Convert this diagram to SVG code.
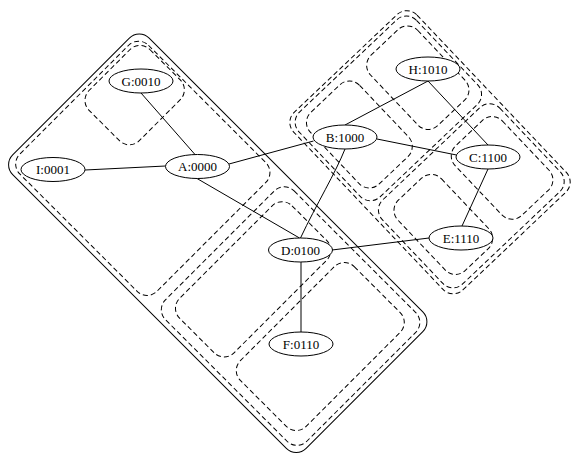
<svg xmlns="http://www.w3.org/2000/svg" width="574" height="454" viewBox="0 0 574 454">
<style>
  .solid{fill:none;stroke:#000;stroke-width:1}
  .dash{fill:none;stroke:#000;stroke-width:1;stroke-dasharray:5,3}
  .node ellipse{fill:#fff;stroke:#000;stroke-width:1}
  .node text{font-family:"Liberation Serif","Times New Roman",serif;font-size:13px;text-anchor:middle;fill:#000}
  #edges path{fill:none;stroke:#000;stroke-width:1}
</style>
<rect width="574" height="454" fill="#fff"/>

<!-- cluster 0*** : tilted 45 degrees -->
<g id="cluster_0" transform="translate(217.75,243.25) rotate(45)">
  <rect class="solid" x="-207.5" y="-96.5" width="415" height="193" rx="14"/>
  <!-- 00** -->
  <rect class="dash" x="-203" y="-91" width="194" height="182" rx="14"/>
  <!-- 001* -->
  <rect class="dash" x="-199" y="-89" width="71" height="86" rx="14"/>
  <!-- 01** -->
  <rect class="dash" x="3" y="-91" width="200" height="182" rx="14"/>
  <!-- 010* -->
  <rect class="dash" x="12" y="-79" width="77" height="159" rx="14"/>
  <!-- 011* -->
  <rect class="dash" x="99" y="-80" width="93" height="161" rx="14"/>
</g>

<!-- cluster 1*** : tilted a little past 45 degrees -->
<g id="cluster_1" transform="translate(430,152.25) rotate(46.5)">
  <rect class="dash" x="-122.5" y="-85" width="245" height="170" rx="14"/>
  <!-- 10** -->
  <rect class="dash" x="-119" y="-81" width="117" height="162" rx="14"/>
  <!-- 11** -->
  <rect class="dash" x="2" y="-81" width="116" height="162" rx="14"/>
  <!-- 101* -->
  <rect class="dash" x="-111" y="-75" width="97" height="65" rx="14"/>
  <!-- 100* -->
  <rect class="dash" x="-111" y="5" width="99" height="68" rx="14"/>
  <!-- 110* -->
  <rect class="dash" x="13" y="-74" width="96" height="65" rx="14"/>
  <!-- 111* -->
  <rect class="dash" x="13" y="10" width="97" height="60" rx="14"/>
</g>

<g id="edges">
  <path d="M141,93 L195,154.5"/>
  <path d="M85,170 L165.5,166"/>
  <path d="M229,164 L313.5,141"/>
  <path d="M197,178.5 L299.5,238"/>
  <path d="M345,149 C336,172 316,205 300.5,238"/>
  <path d="M345,125 L428,81"/>
  <path d="M377,139 L456.5,155"/>
  <path d="M428,81 L488,145"/>
  <path d="M488,169 L462,226"/>
  <path d="M332,250 L429,238"/>
  <path d="M301,262 L301,332"/>
</g>

<g id="node_G" class="node"><ellipse cx="141" cy="81" rx="32" ry="12"/><text x="141" y="85.5">G:0010</text></g>
<g id="node_I" class="node"><ellipse cx="53" cy="169.5" rx="32" ry="12"/><text x="53" y="174">I:0001</text></g>
<g id="node_A" class="node"><ellipse cx="197.5" cy="166.5" rx="32" ry="12"/><text x="197.5" y="171">A:0000</text></g>
<g id="node_B" class="node"><ellipse cx="345" cy="137" rx="32" ry="12"/><text x="345" y="141.5">B:1000</text></g>
<g id="node_H" class="node"><ellipse cx="428" cy="69" rx="32" ry="12"/><text x="428" y="73.5">H:1010</text></g>
<g id="node_C" class="node"><ellipse cx="488" cy="157" rx="32" ry="12"/><text x="488" y="161.5">C:1100</text></g>
<g id="node_E" class="node"><ellipse cx="461" cy="238" rx="32" ry="12"/><text x="461" y="242.5">E:1110</text></g>
<g id="node_D" class="node"><ellipse cx="300.5" cy="250" rx="32" ry="12"/><text x="300.5" y="254.5">D:0100</text></g>
<g id="node_F" class="node"><ellipse cx="301" cy="344" rx="32" ry="12"/><text x="301" y="348.5">F:0110</text></g>
</svg>
